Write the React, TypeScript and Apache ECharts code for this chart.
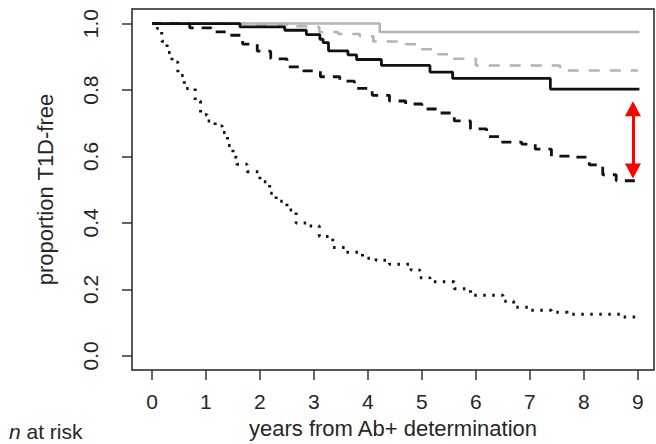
import React, { useEffect, useRef } from "react";
import * as echarts from "echarts";

// Axis ticks
const xTicks = [0, 1, 2, 3, 4, 5, 6, 7, 8, 9];
const yTicks = [0, 0.2, 0.4, 0.6, 0.8, 1.0];

// Kaplan-Meier curves (years, proportion T1D-free), step changes
const graySolidT = [0, 4.22, 9.03];
const graySolidP = [1.0, 0.975, 0.975];

const grayDashedT = [0, 1.9, 2.5, 2.8, 3.1, 3.45, 3.85, 4.1, 4.7, 5.0, 5.3, 5.55, 6.0, 7.56, 9.0];
const grayDashedP = [1.0, 0.997, 0.992, 0.99, 0.975, 0.969, 0.962, 0.946, 0.938, 0.923, 0.908, 0.894, 0.874, 0.859, 0.859];

const blackSolidT = [0, 1.63, 2.46, 2.86, 3.11, 3.17, 3.27, 3.63, 3.79, 4.25, 5.15, 5.57, 7.38, 9.03];
const blackSolidP = [1.0, 0.99, 0.98, 0.967, 0.953, 0.943, 0.918, 0.906, 0.892, 0.874, 0.854, 0.835, 0.803, 0.803];

const blackDashedT = [0, 0.7, 1.1, 1.4, 1.68, 1.95, 2.2, 2.5, 2.8, 3.12, 3.48, 3.75, 4.08, 4.4, 4.7, 5.0, 5.3, 5.6, 5.9, 6.2, 6.45, 6.85, 7.1, 7.4, 7.8, 8.1, 8.35, 8.6, 8.95, 9.0];
const blackDashedP = [1.0, 0.987, 0.975, 0.965, 0.938, 0.917, 0.894, 0.87, 0.858, 0.84, 0.827, 0.805, 0.784, 0.767, 0.758, 0.743, 0.731, 0.707, 0.683, 0.66, 0.643, 0.637, 0.622, 0.601, 0.598, 0.575, 0.545, 0.527, 0.515, 0.515];

const blackDottedT = [0, 0.1, 0.18, 0.28, 0.37, 0.48, 0.6, 0.8, 0.9, 1.02, 1.17, 1.3, 1.4, 1.5, 1.57, 1.76, 2.0, 2.18, 2.3, 2.5, 2.67, 2.87, 3.1, 3.35, 3.6, 3.9, 4.15, 4.4, 4.8, 4.96, 5.15, 5.6, 5.9, 6.5, 6.7, 7.0, 7.4, 7.7, 8.7, 9.0];
const blackDottedP = [1.0, 0.985, 0.947, 0.913, 0.884, 0.844, 0.805, 0.766, 0.726, 0.707, 0.692, 0.672, 0.633, 0.598, 0.577, 0.554, 0.524, 0.489, 0.465, 0.439, 0.4, 0.391, 0.359, 0.326, 0.312, 0.294, 0.288, 0.276, 0.258, 0.235, 0.223, 0.202, 0.182, 0.164, 0.146, 0.137, 0.131, 0.125, 0.117, 0.112];

// Red double-headed arrow (year, proportion at the two ends)
const arrowX = 8.91;
const arrowP = [0.744, 0.556];

const FONT = "'Liberation Sans', Arial, sans-serif";
const TXT = "#262626";

const pairs = (t: number[], p: number[]) => t.map((v, i) => [v, p[i]]);

export default function App() {
  const ref = useRef<HTMLDivElement>(null);
  useEffect(() => {
    document.body.style.margin = "0";
    if (!ref.current) return;
    const chart = echarts.init(ref.current, null, { renderer: "svg" });
    const lineBase = { type: "line", step: "end", showSymbol: false, symbol: "none", silent: true };
    chart.setOption({
      animation: false,
      backgroundColor: "#ffffff",
      grid: {
        left: 132,
        top: 9,
        width: 522,
        height: 368,
        show: true,
        borderColor: "#222",
        borderWidth: 1.5,
        backgroundColor: "transparent",
      },
      xAxis: {
        type: "value",
        min: -0.37,
        max: 9.3,
        axisLine: { show: false, onZero: false },
        splitLine: { show: false },
        axisTick: { show: true, length: 10, customValues: xTicks, lineStyle: { color: "#333", width: 1.5 } },
        axisLabel: {
          customValues: xTicks,
          margin: 21,
          fontSize: 21,
          fontFamily: FONT,
          color: TXT,
        },
        name: "years from Ab+ determination",
        nameLocation: "middle",
        nameGap: 39,
        nameTextStyle: { fontSize: 22, fontFamily: FONT, color: TXT },
      },
      yAxis: {
        type: "value",
        min: -0.043,
        max: 1.044,
        axisLine: { show: false, onZero: false },
        splitLine: { show: false },
        axisTick: { show: true, length: 10, customValues: yTicks, lineStyle: { color: "#333", width: 1.5 } },
        axisLabel: {
          customValues: yTicks,
          rotate: 90,
          margin: 31,
          fontSize: 21,
          fontFamily: FONT,
          color: TXT,
          formatter: (v: number) => v.toFixed(1),
        },
        name: "proportion T1D-free",
        nameLocation: "middle",
        nameRotate: 90,
        nameGap: 76,
        nameTextStyle: { fontSize: 22, fontFamily: FONT, color: TXT },
      },
      graphic: [
        {
          type: "text",
          left: 9,
          top: 421,
          style: {
            text: "{i|n} at risk",
            fontSize: 21,
            fontFamily: FONT,
            fill: TXT,
            rich: {
              i: { fontStyle: "italic", fontSize: 21, fontFamily: FONT, fill: TXT },
            },
          },
        },
      ],
      series: [
        { ...lineBase, name: "gray solid", data: pairs(graySolidT, graySolidP), lineStyle: { color: "#b3b3b3", width: 2.5 } },
        { ...lineBase, name: "gray dashed", data: pairs(grayDashedT, grayDashedP), lineStyle: { color: "#b3b3b3", width: 2.5, type: [11, 10] } },
        { ...lineBase, name: "black solid", data: pairs(blackSolidT, blackSolidP), lineStyle: { color: "#111", width: 2.8 } },
        {
          ...lineBase,
          name: "black dashed",
          data: pairs(blackDashedT, blackDashedP),
          lineStyle: { color: "#111", width: 2.8, type: [10, 8] },
          markLine: {
            silent: true,
            animation: false,
            symbol: ["triangle", "triangle"],
            symbolSize: [16, 15],
            label: { show: false },
            lineStyle: { color: "#ff0000", width: 3, type: "solid" },
            data: [[{ coord: [arrowX, arrowP[0]] }, { coord: [arrowX, arrowP[1]] }]],
          },
        },
        { ...lineBase, name: "black dotted", data: pairs(blackDottedT, blackDottedP), lineStyle: { color: "#111", width: 3, type: [2.5, 6.5] } },
      ],
    });
    return () => chart.dispose();
  }, []);
  return <div ref={ref} style={{ position: "fixed", left: 0, top: 0, width: 656, height: 444 }} />;
}
